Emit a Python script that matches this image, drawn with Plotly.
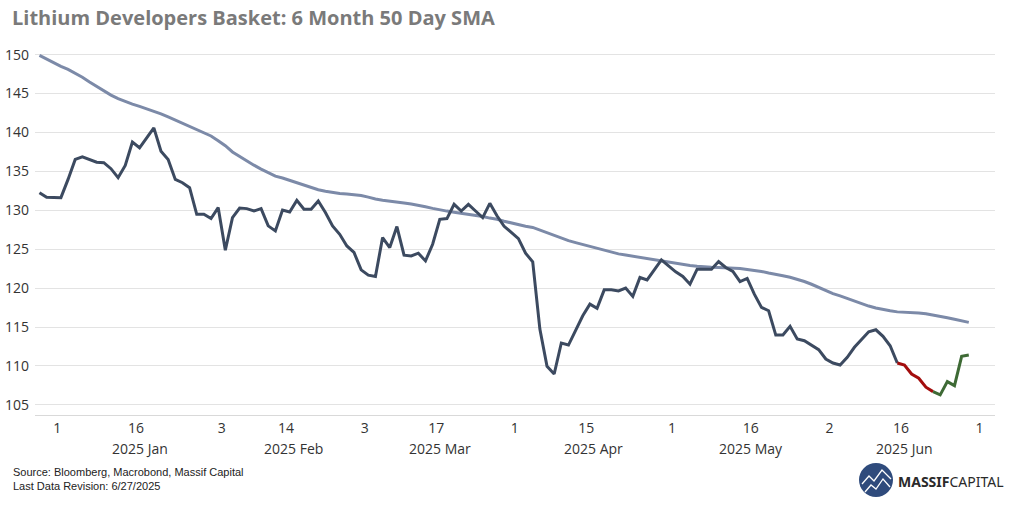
import pandas as pd
import plotly.graph_objects as go

# ---------------- data ----------------
dates = pd.bdate_range("2024-12-27", "2025-06-27")  # 131 trading days

basket = [
    132.27, 131.67, 131.65, 131.63, 133.97, 136.54, 136.88, 136.54, 136.19, 136.12,
    135.35, 134.19, 135.77, 138.76, 138.04, 139.32, 140.60, 137.60, 136.54, 133.97,
    133.55, 132.91, 129.49, 129.49, 128.94, 130.35, 124.87, 129.06, 130.29, 130.22,
    129.91, 130.22, 128.00, 127.35, 130.04, 129.78, 131.28, 130.13, 130.13, 131.19,
    129.71, 127.99, 126.92, 125.42, 124.58, 122.35, 121.67, 121.50, 126.50, 125.22,
    127.91, 124.23, 124.14, 124.49, 123.50, 125.64, 128.85, 128.94, 130.77, 129.91,
    130.77, 129.91, 129.06, 130.90, 129.30, 127.95, 127.18, 126.37, 124.49, 123.37,
    114.74, 109.96, 108.97, 112.95, 112.69, 114.53, 116.45, 117.95, 117.40, 119.78,
    119.78, 119.65, 120.00, 118.94, 121.37, 121.06, 122.35, 123.63, 122.86, 122.09,
    121.50, 120.51, 122.44, 122.44, 122.44, 123.42, 122.65, 122.15, 120.84, 121.24,
    119.23, 117.53, 117.10, 113.97, 113.97, 115.09, 113.46, 113.24, 112.69, 112.09,
    110.90, 110.38, 110.13, 111.12, 112.40, 113.37, 114.40, 114.65, 113.81, 112.60,
    110.38, 110.13, 108.97, 108.42, 107.27, 106.70, 106.28, 107.99, 107.47, 111.24,
    111.41,
]

sma50 = [
    149.90, 149.40, 148.95, 148.50, 148.10, 147.65, 147.10, 146.50, 145.90, 145.35,
    144.80, 144.35, 143.95, 143.65, 143.35, 143.05, 142.80, 142.40, 142.00, 141.60,
    141.25, 140.85, 140.45, 140.00, 139.55, 138.95, 138.30, 137.50, 136.90, 136.30,
    135.80, 135.30, 134.80, 134.40, 134.15, 133.85, 133.55, 133.25, 132.95, 132.65,
    132.45, 132.30, 132.15, 132.10, 132.00, 131.90, 131.70, 131.45, 131.30, 131.20,
    131.10, 130.95, 130.80, 130.65, 130.45, 130.25, 130.05, 129.90, 129.75, 129.60,
    129.50, 129.40, 129.20, 129.00, 128.85, 128.60, 128.35, 128.15, 127.95, 127.80,
    127.45, 127.05, 126.75, 126.45, 126.10, 125.85, 125.60, 125.35, 125.10, 124.85,
    124.60, 124.40, 124.25, 124.10, 123.95, 123.80, 123.65, 123.50, 123.30, 123.15,
    123.00, 122.90, 122.80, 122.70, 122.68, 122.65, 122.62, 122.58, 122.53, 122.40,
    122.30, 122.15, 121.95, 121.80, 121.60, 121.40, 121.15, 120.85, 120.50, 120.10,
    119.60, 119.30, 119.00, 118.65, 118.30, 117.95, 117.70, 117.45, 117.25, 117.10,
    116.95, 116.90, 116.90, 116.80, 116.70, 116.55, 116.40, 116.20, 116.00, 115.80,
    115.60,
]

red_start = 120    # index where the falling (red) stretch begins
green_start = 125  # index where the rising (green) stretch begins

tick_dates = ["2025-01-01", "2025-01-16", "2025-02-03", "2025-02-14", "2025-03-03",
              "2025-03-17", "2025-04-01", "2025-04-15", "2025-05-01", "2025-05-16",
              "2025-06-02", "2025-06-16", "2025-07-01"]
tick_text = ["1", "16", "3", "14", "3", "17", "1", "15", "1", "16", "2", "16", "1"]

months = ["2025-01", "2025-02", "2025-03", "2025-04", "2025-05", "2025-06"]
month_text = ["2025 Jan", "2025 Feb", "2025 Mar", "2025 Apr", "2025 May", "2025 Jun"]

y_ticks = [105, 110, 115, 120, 125, 130, 135, 140, 145, 150]

# ---------------- styling ----------------
C_MAIN = "#3c4a60"
C_SMA = "#7c8aa8"
C_RED = "#a30d0d"
C_GREEN = "#3e6a35"
TICK_FONT = dict(family="Open Sans", size=14, color="#333333")

W, H = 1012, 506
L, R, T, B = 35, 17, 50, 91
PW, PH = W - L - R, H - T - B

half = pd.Timedelta(hours=12)
x = dates + half  # each trading day is centred in its slot

fig = go.Figure()
fig.add_trace(go.Scatter(x=x, y=sma50, mode="lines",
                         line=dict(color=C_SMA, width=3), hoverinfo="skip"))
fig.add_trace(go.Scatter(x=x[:red_start + 1], y=basket[:red_start + 1], mode="lines",
                         line=dict(color=C_MAIN, width=3), hoverinfo="skip"))
fig.add_trace(go.Scatter(x=x[red_start:green_start + 1], y=basket[red_start:green_start + 1],
                         mode="lines", line=dict(color=C_RED, width=3), hoverinfo="skip"))
fig.add_trace(go.Scatter(x=x[green_start:], y=basket[green_start:], mode="lines",
                         line=dict(color=C_GREEN, width=3), hoverinfo="skip"))


def px(xp):
    return (xp - L) / PW


def py(yp):
    return (T + PH - yp) / PH


# month labels centred in each month (in trading-day space)
annotations = []
for m, label in zip(months, month_text):
    start = pd.Timestamp(m + "-01")
    days = pd.bdate_range(start, start + pd.offsets.MonthEnd(0))
    k = len(days) / 2
    pos = days[int(k)] + (half if k != int(k) else pd.Timedelta(0))
    annotations.append(dict(x=pos, y=py(448), xref="x", yref="paper",
                            text=label, showarrow=False, font=TICK_FONT,
                            xanchor="center", yanchor="middle"))

# title
annotations.append(dict(x=px(10), y=py(18), xref="paper", yref="paper",
                        text="<b>Lithium Developers Basket: 6 Month 50 Day SMA</b>",
                        showarrow=False, xanchor="left", yanchor="middle",
                        font=dict(family="Open Sans", size=20, color="#7a7a7a")))
# footer
annotations.append(dict(x=px(11), y=py(472), xref="paper", yref="paper",
                        text="Source: Bloomberg, Macrobond, Massif Capital",
                        showarrow=False, xanchor="left", yanchor="middle",
                        font=dict(family="Liberation Sans", size=11, color="#222222")))
annotations.append(dict(x=px(11), y=py(486), xref="paper", yref="paper",
                        text="Last Data Revision: 6/27/2025",
                        showarrow=False, xanchor="left", yanchor="middle",
                        font=dict(family="Liberation Sans", size=11, color="#222222")))
# logo text
annotations.append(dict(x=px(896), y=py(481), xref="paper", yref="paper",
                        text="<b>MASSIF</b>CAPITAL",
                        showarrow=False, xanchor="left", yanchor="middle",
                        font=dict(family="Noto Sans", size=14, color="#2a2a2a")))

# logo circle + mountains
shapes = [dict(type="circle", xref="paper", yref="paper",
               x0=px(859), x1=px(893), y0=py(497), y1=py(463),
               fillcolor="#2f4b7c", line=dict(width=0))]


def path(points):
    return "M " + " L ".join(f"{px(a):.5f},{py(b):.5f}" for a, b in points)


shapes.append(dict(type="path", xref="paper", yref="paper",
                   path=path([(862, 484), (869, 476), (874, 481), (882, 470), (891, 479)]),
                   line=dict(color="white", width=1.3)))
shapes.append(dict(type="path", xref="paper", yref="paper",
                   path=path([(865, 492), (871, 485), (876, 489), (883, 479), (890, 487)]),
                   line=dict(color="white", width=1.3)))

fig.update_layout(
    width=W, height=H,
    margin=dict(l=L, r=R, t=T, b=B, pad=0, autoexpand=False),
    paper_bgcolor="white", plot_bgcolor="white",
    showlegend=False,
    annotations=annotations,
    shapes=shapes,
    xaxis=dict(
        type="date",
        range=["2024-12-26 21:00", "2025-07-03 04:00"],
        rangebreaks=[dict(bounds=["sat", "mon"])],
        tickmode="array", tickvals=tick_dates, ticktext=tick_text,
        tickfont=TICK_FONT, ticks="", showgrid=False,
        showline=True, linecolor="#d9d9d9", linewidth=1,
        zeroline=False, fixedrange=True, automargin=False,
    ),
    yaxis=dict(
        range=[103.7, 150.6],
        tickmode="array", tickvals=y_ticks,
        tickfont=TICK_FONT, ticks="",
        showgrid=True, gridcolor="#e3e3e3", gridwidth=1,
        zeroline=False, showline=False, ticklabelstandoff=5,
        fixedrange=True, automargin=False,
    ),
)

fig.write_html("out.html", config={"displayModeBar": False},
               post_script="document.body.style.margin='0';")
